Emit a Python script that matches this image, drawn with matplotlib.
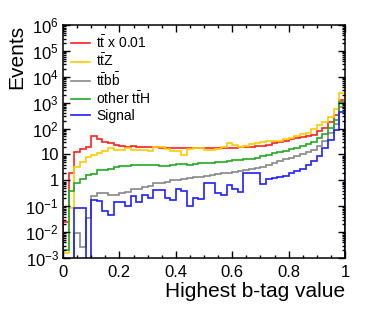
import matplotlib
matplotlib.use("Agg")
import matplotlib.pyplot as plt
import numpy as np

plt.rcParams['font.family'] = ['Liberation Sans', 'DejaVu Sans']
plt.rcParams['mathtext.fontset'] = 'custom'
plt.rcParams['mathtext.rm'] = 'Liberation Sans'
plt.rcParams['mathtext.it'] = 'Liberation Sans:italic'
plt.rcParams['mathtext.default'] = 'regular'

# --- data: 50 bins of the highest b-tag value ---
bin_edges = np.linspace(0.0, 1.0, 51)

ttbar_x001 = [0.025, 1.9, 12, 16, 20, 50, 38, 31, 27, 23,
              21, 20, 21, 20, 20, 19, 19, 18, 18, 18,
              17, 17, 17, 17, 17, 17, 17, 17, 18, 18,
              18, 19, 19, 20, 21, 22, 24, 27, 30, 34,
              38, 42, 47, 53, 58, 82, 105, 175, 330, 1300]

ttz = [0.0015, 0.085, 3.3, 5.2, 8.2, 9.6, 11.8, 13.8, 17, 15,
       15, 17, 15, 15, 15, 13, 20, 20, 16, 13,
       13, 9.6, 16, 17, 17, 15, 15, 16, 19, 28,
       23, 19, 21, 25, 28, 30, 34, 34, 34, 38,
       45, 50, 60, 70, 96, 137, 180, 290, 550, 2400]

ttbb = [0, 0, 0.009, 0.0027, 0.034, 0.25, 0.33, 0.33, 0.28, 0.28,
        0.33, 0.37, 0.45, 0.45, 0.55, 0.6, 0.76, 0.8, 0.9, 1.0,
        1.0, 1.1, 1.2, 1.3, 1.4, 1.5, 1.6, 1.8, 1.9, 2.0,
        2.1, 2.2, 2.5, 2.7, 3.0, 3.4, 3.8, 4.5, 5.5, 6.5,
        7.5, 8.5, 10, 12, 15, 22, 34, 70, 150, 700]

other_tth = [0.002, 0.4, 0.8, 1.1, 1.6, 1.7, 2.5, 2.6, 2.7, 3.4,
             3.5, 3.6, 3.9, 3.9, 3.9, 3.9, 3.9, 3.7, 3.6, 3.8,
             4.2, 4.2, 4.0, 4.4, 4.6, 4.7, 4.6, 5.0, 5.1, 5.6,
             6.0, 6.0, 6.4, 6.9, 7.5, 8.5, 9.5, 11, 12.5, 14,
             16, 18, 21, 25, 30, 42, 62, 105, 220, 1050]

signal = [0, 0, 0.085, 0.085, 0, 0.17, 0.16, 0.065, 0.045, 0.15,
          0.15, 0.1, 0.25, 0.15, 0.28, 0.2, 0.43, 0.43, 0.2, 0.17,
          0.45, 0.38, 0.1, 0.2, 0.19, 0.76, 0.76, 0.32, 0.27, 0.66,
          0.45, 0.36, 1.9, 1.9, 1.9, 0.7, 1.1, 1.2, 1.4, 1.5,
          2.0, 2.3, 2.8, 3.9, 5.5, 9, 18, 36, 87, 450]

labels = [r'$\mathrm{t\bar{t}}$ x 0.01', r'$\mathrm{t\bar{t}Z}$',
          r'$\mathrm{t\bar{t}b\bar{b}}$', r'other $\mathrm{t\bar{t}H}$', 'Signal']
series = [ttbar_x001, ttz, ttbb, other_tth, signal]
colors = ['#ff2020', '#ffcc00', '#888888', '#22aa22', '#2020ff']

y_ticks = [1e-3, 1e-2, 1e-1, 1, 10, 1e2, 1e3, 1e4, 1e5, 1e6]
y_tick_labels = [r'$10^{-3}$', r'$10^{-2}$', r'$10^{-1}$', '1', '10',
                 r'$10^{2}$', r'$10^{3}$', r'$10^{4}$', r'$10^{5}$', r'$10^{6}$']
x_ticks = [0, 0.2, 0.4, 0.6, 0.8, 1]
x_tick_labels = ['0', '0.2', '0.4', '0.6', '0.8', '1']

# --- figure ---
fig = plt.figure(figsize=(3.74, 3.16), dpi=100)
ax = fig.add_axes([63 / 374, 1 - 258 / 316, 282 / 374, 233 / 316])

for vals, col, lab in zip(series, colors, labels):
    ax.stairs(np.asarray(vals, dtype=float), bin_edges, color=col, lw=1.2,
              baseline=1e-5, label=lab)

ax.set_yscale('log')
ax.set_xlim(0, 1)
ax.set_ylim(1e-3, 1e6)

ax.set_yticks(y_ticks)
ax.set_yticklabels(y_tick_labels)
ax.yaxis.set_minor_locator(matplotlib.ticker.LogLocator(base=10, subs=np.arange(2, 10), numticks=20))
ax.yaxis.set_minor_formatter(matplotlib.ticker.NullFormatter())
ax.set_xticks(x_ticks)
ax.set_xticklabels(x_tick_labels)
ax.xaxis.set_minor_locator(matplotlib.ticker.MultipleLocator(0.05))

ax.tick_params(which='both', direction='in', top=True, right=True, width=1.0, labelsize=12)
ax.tick_params(which='major', length=5)
ax.tick_params(which='minor', length=2.5)
ax.tick_params(axis='x', pad=5)
ax.tick_params(axis='y', pad=3)
for sp in ax.spines.values():
    sp.set_linewidth(1.1)

ax.set_xlabel('Highest b-tag value', fontsize=15, loc='right')
ax.xaxis.set_label_coords(1.0, -0.105)
fig.text(17 / 374, 1 - 25 / 316, 'Events', fontsize=15, rotation=90,
         ha='center', va='top')

ax.legend(loc='upper left', bbox_to_anchor=(0.03, 0.96), frameon=False,
          fontsize=10, handlelength=1.35, handletextpad=0.45,
          labelspacing=0.12, borderaxespad=0.0, borderpad=0.0)

fig.savefig('out.png', dpi=100)
